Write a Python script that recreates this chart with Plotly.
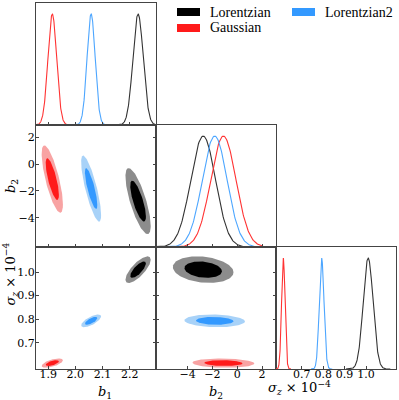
import numpy as np
import plotly.graph_objects as go
from plotly.subplots import make_subplots

# marginal summary of each chain
names = ["Lorentzian", "Gaussian", "Lorentzian2"]
b1_mean = [2.231, 1.915, 2.058]
b1_sigma = [0.019, 0.016, 0.015]
b2_mean = [-2.75, -1.12, -1.82]
b2_sigma = [1.0, 1.02, 1.0]
sz_mean = [1.01, 0.614, 0.793]
sz_sigma = [0.023, 0.008, 0.011]
rho_b1_b2 = [-0.75, -0.75, -0.8]
rho_b1_sz = [0.75, 0.6, 0.7]
rho_b2_sz = [-0.2, -0.1, -0.1]

line_col = ["#333333", "#ff3333", "#4da6ff"]
inner_col = ["#000000", "#ff1a1a", "#3399ff"]
outer_col = ["#8c8c8c", "#f8a3a3", "#a8d2f8"]

b1_range = [1.855, 2.297]
b2_xrange = [-6.56, 3.13]
b2_yrange = [-6.15, 2.89]
sz_xrange = [0.58, 1.14]
sz_yrange = [0.589, 1.106]

FONT = "DejaVu Serif"
AX = "#444444"


def gauss_curve(mu, sig):
    x = np.linspace(mu - 4.5 * sig, mu + 4.5 * sig, 200)
    return x, np.exp(-0.5 * ((x - mu) / sig) ** 2)


def ellipse(mx, my, sx, sy, rho, k):
    t = np.linspace(0, 2 * np.pi, 120)
    u, v = np.cos(t) * k, np.sin(t) * k
    x = mx + sx * u
    y = my + sy * (rho * u + np.sqrt(1 - rho ** 2) * v)
    return x, y


fig = make_subplots(rows=3, cols=3, horizontal_spacing=0, vertical_spacing=0,
                    specs=[[{}, None, None], [{}, {}, None], [{}, {}, {}]])

# 1D panels
for i in range(3):
    x, y = gauss_curve(b1_mean[i], b1_sigma[i])
    fig.add_trace(go.Scatter(x=x, y=y, mode="lines", line=dict(color=line_col[i], width=1.1),
                             showlegend=False, hoverinfo="skip"), row=1, col=1)
    x, y = gauss_curve(b2_mean[i], b2_sigma[i])
    fig.add_trace(go.Scatter(x=x, y=y, mode="lines", line=dict(color=line_col[i], width=1.1),
                             showlegend=False, hoverinfo="skip"), row=2, col=2)
    x, y = gauss_curve(sz_mean[i], sz_sigma[i])
    fig.add_trace(go.Scatter(x=x, y=y, mode="lines", line=dict(color=line_col[i], width=1.1),
                             showlegend=False, hoverinfo="skip"), row=3, col=3)

# 2D panels: 95% then 68% contours
pairs = [
    (2, 1, b1_mean, b1_sigma, b2_mean, b2_sigma, rho_b1_b2),
    (3, 1, b1_mean, b1_sigma, sz_mean, sz_sigma, rho_b1_sz),
    (3, 2, b2_mean, b2_sigma, sz_mean, sz_sigma, rho_b2_sz),
]
for r, c, mx, sx, my, sy, rho in pairs:
    for i in range(3):
        for k, col in [(np.sqrt(5.991), outer_col[i]), (np.sqrt(2.296), inner_col[i])]:
            x, y = ellipse(mx[i], my[i], sx[i], sy[i], rho[i], k)
            fig.add_trace(go.Scatter(x=x, y=y, mode="lines", fill="toself", fillcolor=col,
                                     line=dict(width=0), showlegend=False, hoverinfo="skip"),
                          row=r, col=c)

tickfont = dict(family=FONT, size=11, color="black")
base = dict(showgrid=False, zeroline=False, showline=True, linecolor=AX, linewidth=1,
            ticks="inside", ticklen=3, tickcolor=AX, tickfont=tickfont, automargin=False)

b1_ticks = [1.9, 2.0, 2.1, 2.2]
b2_ticks = [-4, -2, 0, 2]
sz_ticks = [0.7, 0.8, 0.9, 1.0]

# x axes
xs = dict(ticklabelstandoff=-5)
fig.update_xaxes(base, range=b1_range, tickvals=b1_ticks, showticklabels=False, mirror=True, row=1, col=1)
fig.update_xaxes(base, range=b1_range, tickvals=b1_ticks, showticklabels=False, mirror=True, row=2, col=1)
fig.update_xaxes(base, range=b1_range, tickvals=b1_ticks, ticktext=["1.9", "2.0", "2.1", "2.2"],
                 mirror=True, row=3, col=1, **xs)
fig.update_xaxes(base, range=b2_xrange, tickvals=b2_ticks, showticklabels=False, mirror=True, row=2, col=2)
fig.update_xaxes(base, range=b2_xrange, tickvals=b2_ticks, ticktext=["\u22124", "\u22122", "0", "2"],
                 mirror=True, row=3, col=2, **xs)
fig.update_xaxes(base, range=sz_xrange, tickvals=sz_ticks, ticktext=["0.7", "0.8", "0.9", "1.0"],
                 mirror=True, row=3, col=3, **xs)

# y axes
ys = dict(ticklabelstandoff=-2)
for r, c in [(1, 1), (2, 2), (3, 3)]:
    fig.update_yaxes(base, range=[0, 1.1], ticks="", showticklabels=False, mirror=True, row=r, col=c)
fig.update_yaxes(base, range=b2_yrange, tickvals=b2_ticks, ticktext=["\u22124", "\u22122", "0", "2"],
                 mirror="ticks", row=2, col=1, **ys)
fig.update_yaxes(base, range=sz_yrange, tickvals=sz_ticks, ticktext=["0.7", "0.8", "0.9", "1.0"],
                 mirror="ticks", row=3, col=1, **ys)
fig.update_yaxes(base, range=sz_yrange, tickvals=sz_ticks, showticklabels=False,
                 mirror="ticks", row=3, col=2)

W, H = 399, 400
L, R, T, B = 36, 3, 3, 31
pw, ph = W - L - R, H - T - B

labfont = dict(family=FONT, size=13, color="black")
sz_label = "<i>\u03c3<sub>z</sub></i> \u00d7 10<sup>\u22124</sup>"
annotations = [
    dict(text="<i>b</i><sub>1</sub>", x=1 / 6, y=-(392 - (H - B)) / ph, xref="paper", yref="paper",
         showarrow=False, font=labfont, yanchor="middle"),
    dict(text="<i>b</i><sub>2</sub>", x=0.5, y=-(392 - (H - B)) / ph, xref="paper", yref="paper",
         showarrow=False, font=labfont, yanchor="middle"),
    dict(text=sz_label, x=(333 - L) / pw, y=-(388 - (H - B)) / ph, xref="paper", yref="paper",
         showarrow=False, font=labfont, yanchor="middle"),
    dict(text="<i>b</i><sub>2</sub>", x=(11 - L) / pw, y=0.5, xref="paper", yref="paper",
         showarrow=False, font=labfont, textangle=-90, xanchor="center"),
    dict(text=sz_label, x=(10 - L) / pw, y=1 / 6, xref="paper", yref="paper",
         showarrow=False, font=labfont, textangle=-90, xanchor="center"),
]

# legend drawn as patches + text (two columns, column-major like the original)
legend_pos = [(177, 12), (177, 28), (292, 12)]
shapes = []
legfont = dict(family="Liberation Serif", size=14, color="black")
for i, (px, py) in enumerate(legend_pos):
    x0 = (px - L) / pw
    x1 = (px + 23 - L) / pw
    y0 = (H - B - (py + 4)) / ph
    y1 = (H - B - (py - 4)) / ph
    shapes.append(dict(type="rect", xref="paper", yref="paper", x0=x0, x1=x1, y0=y0, y1=y1,
                       fillcolor=inner_col[i], line=dict(width=0)))
    annotations.append(dict(text=names[i], x=(px + 31 - L) / pw, y=(H - B - py) / ph,
                            xref="paper", yref="paper", xanchor="left", yanchor="middle",
                            showarrow=False, font=legfont))

fig.update_layout(template="none", width=W, height=H, margin=dict(l=L, r=R, t=T, b=B),
                  plot_bgcolor="white", paper_bgcolor="white",
                  annotations=annotations, shapes=shapes)

fig.write_html("out.html", config={"displayModeBar": False},
               post_script="document.body.style.margin='0';")
